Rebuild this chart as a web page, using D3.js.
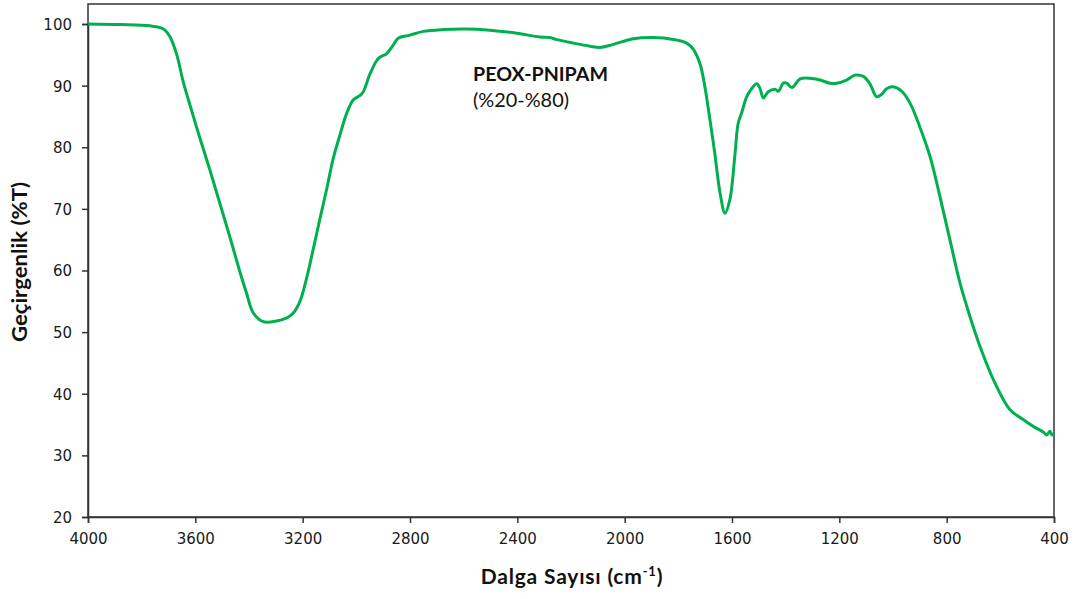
<!DOCTYPE html>
<html>
<head>
<meta charset="utf-8">
<script src="https://cdn.jsdelivr.net/npm/d3@7/dist/d3.min.js"></script>
<style>
  html, body { margin: 0; padding: 0; background: #fff; }
  svg { display: block; }
  .tick text { font-family: "DejaVu Sans", Verdana, sans-serif; font-size: 15px; fill: #1a1a1a; }
  .title { font-family: Lato, "Open Sans", sans-serif; font-weight: bold; fill: #111; }
</style>
</head>
<body>
<svg id="chart" width="1086" height="599"></svg>
<script>
// FTIR spectrum of PEOX-PNIPAM (20/80) blend
const wavenumbers = [
  4000, 3881, 3769, 3719, 3694, 3669, 3645, 3608, 3583, 3545,
  3508, 3471, 3434, 3409, 3384, 3347, 3297, 3259, 3235, 3210,
  3185, 3160, 3135, 3110, 3086, 3061, 3036, 3011, 2986, 2974,
  2949, 2918, 2887, 2862, 2844, 2800, 2750, 2676, 2595, 2502,
  2402, 2316, 2278, 2256, 2191, 2129, 2092, 2042, 1968, 1893,
  1819, 1769, 1744, 1719, 1701, 1682, 1664, 1645, 1626, 1608,
  1589, 1577, 1564, 1545, 1527, 1508, 1496, 1483, 1465, 1440,
  1427, 1409, 1396, 1377, 1346, 1309, 1272, 1235, 1210, 1173,
  1142, 1111, 1086, 1061, 1042, 1024, 999, 968, 937, 900,
  862, 825, 788, 750, 713, 676, 626, 564, 514, 477,
  440, 427, 415, 407, 400
];
const transmittance = [
  100.0, 99.9, 99.7, 99.2, 97.9, 95.0, 90.6, 85.1, 81.5, 76.2,
  70.8, 65.4, 59.8, 56.3, 53.1, 51.7, 51.8, 52.3, 53.1, 55.0,
  58.8, 63.6, 68.5, 73.3, 78.2, 82.0, 85.5, 87.7, 88.4, 89.0,
  91.9, 94.4, 95.2, 96.6, 97.7, 98.2, 98.8, 99.1, 99.2, 99.0,
  98.5, 97.9, 97.8, 97.5, 96.9, 96.4, 96.2, 96.7, 97.6, 97.8,
  97.5, 96.9, 95.9, 93.5, 89.8, 84.4, 79.0, 72.7, 69.3, 71.5,
  78.8, 83.9, 85.6, 88.2, 89.5, 90.3, 89.6, 88.0, 89.0, 89.4,
  89.1, 90.4, 90.4, 89.7, 91.1, 91.2, 90.9, 90.4, 90.4, 90.9,
  91.7, 91.5, 90.3, 88.2, 88.6, 89.5, 89.8, 89.1, 87.2, 83.3,
  78.5, 72.0, 65.0, 57.9, 52.5, 47.7, 42.3, 37.4, 35.8, 34.7,
  33.8, 33.3, 33.9, 33.3, 33.5
];
const xTicks = [4000, 3600, 3200, 2800, 2400, 2000, 1600, 1200, 800, 400];
const yTicks = [20, 30, 40, 50, 60, 70, 80, 90, 100];

const svg = d3.select("#chart");
const left = 88, right = 1054, bottom = 517, yTop = 24, frameTop = 4;

const x = d3.scaleLinear().domain([4000, 400]).range([left, right]);
const y = d3.scaleLinear().domain([20, 100]).range([bottom, yTop]);

// plot frame
svg.append("rect")
  .attr("x", left).attr("y", frameTop)
  .attr("width", right - left).attr("height", bottom - frameTop)
  .attr("fill", "none").attr("stroke", "#333").attr("stroke-width", 1.5);

// axes
const xAxis = svg.append("g")
  .attr("transform", `translate(0,${bottom})`)
  .call(d3.axisBottom(x).tickValues(xTicks).tickFormat(d3.format("d")).tickSize(6).tickPadding(10));
const yAxis = svg.append("g")
  .attr("transform", `translate(${left},0)`)
  .call(d3.axisLeft(y).tickValues(yTicks).tickFormat(d3.format("d")).tickSize(6).tickPadding(10));
[xAxis, yAxis].forEach(g => {
  g.select(".domain").attr("stroke", "#333").attr("stroke-width", 1.5);
  g.selectAll(".tick line").attr("stroke", "#333").attr("stroke-width", 1.5);
});
yAxis.selectAll(".tick text").attr("dy", "0.36em");

// spectrum
const data = wavenumbers.map((w, i) => ({ w, t: transmittance[i] }));
svg.append("path")
  .datum(data)
  .attr("fill", "none")
  .attr("stroke", "#00B050")
  .attr("stroke-width", 3)
  .attr("stroke-linejoin", "round")
  .attr("d", d3.line().x(d => x(d.w)).y(d => y(d.t)).curve(d3.curveCatmullRom.alpha(0.5)));

// axis titles
const xt = svg.append("text").attr("class", "title")
  .attr("x", 572).attr("y", 584).attr("text-anchor", "middle")
  .attr("font-size", 21).attr("letter-spacing", 0.8);
xt.append("tspan").text("Dalga Sayısı (cm");
xt.append("tspan").attr("dy", -8).attr("font-size", 13).text("-1");
xt.append("tspan").attr("dy", 8).text(")");

svg.append("text").attr("class", "title")
  .attr("transform", "translate(27,262) rotate(-90)")
  .attr("text-anchor", "middle").attr("font-size", 20)
  .attr("textLength", 160).attr("lengthAdjust", "spacingAndGlyphs")
  .text("Geçirgenlik (%T)");

// sample label
svg.append("text").attr("class", "title")
  .attr("x", 473).attr("y", 81).attr("font-size", 19)
  .attr("textLength", 135).attr("lengthAdjust", "spacingAndGlyphs")
  .text("PEOX-PNIPAM");
svg.append("text")
  .attr("x", 473).attr("y", 107).attr("font-size", 19)
  .attr("textLength", 96).attr("lengthAdjust", "spacingAndGlyphs")
  .attr("font-family", "Lato, 'Open Sans', sans-serif").attr("fill", "#111")
  .text("(%20-%80)");
</script>
</body>
</html>
